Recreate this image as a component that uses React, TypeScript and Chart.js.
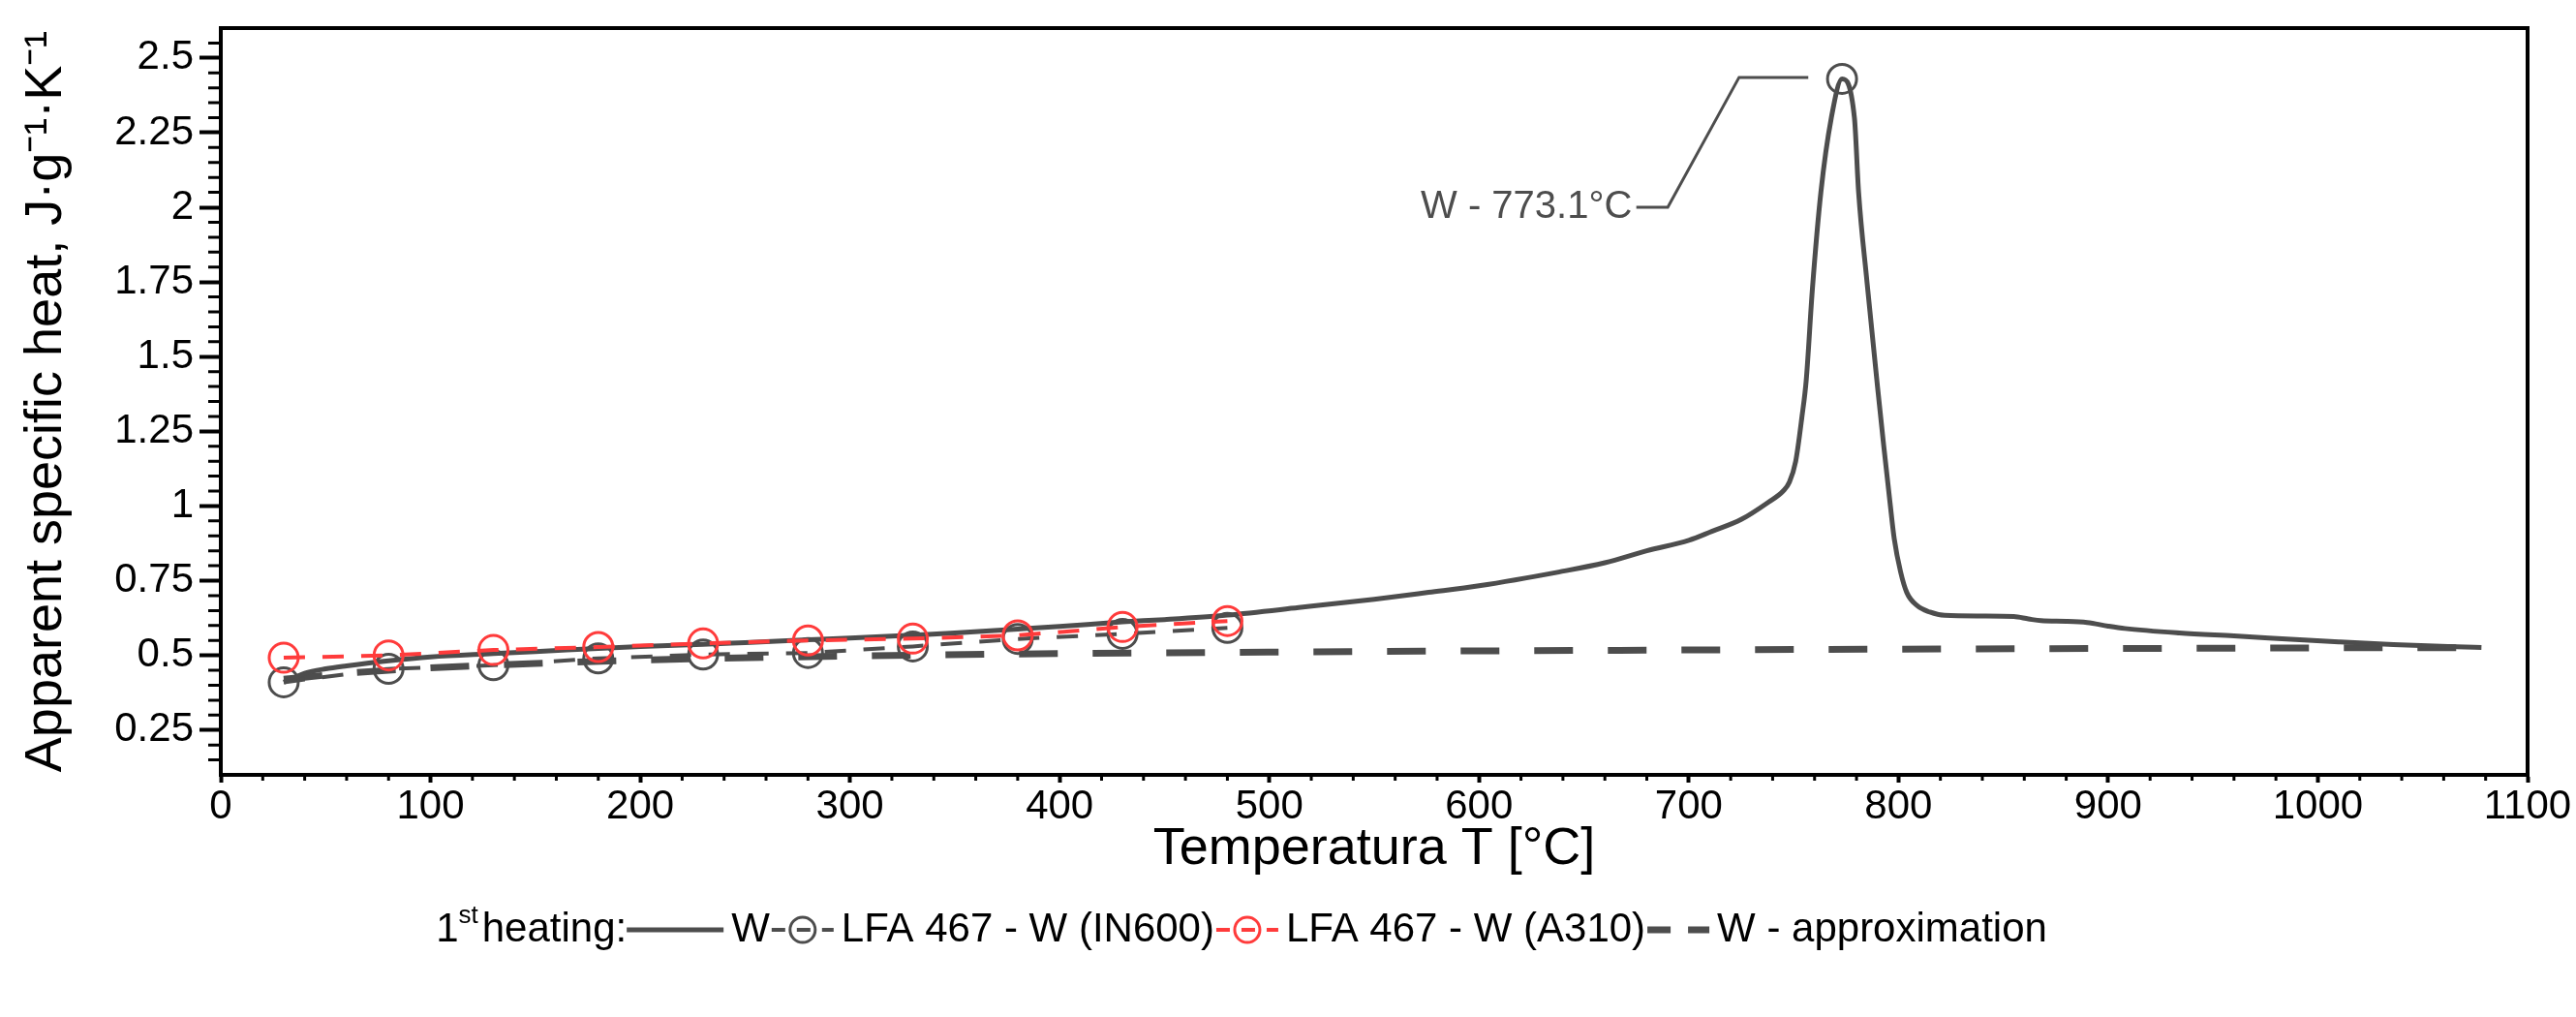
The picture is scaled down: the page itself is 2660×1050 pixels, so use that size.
import { useEffect, useRef } from 'react';
import { Chart, registerables, Plugin } from 'chart.js';

Chart.register(...registerables);

// W - 1st heating (DSC), temperature in °C, apparent cp in J/(g·K)
const wTemp = [
  30, 35, 40, 50, 60, 80, 100, 130, 150, 180, 200, 230, 250, 280, 300, 330, 350, 380, 400, 430, 450,
  480, 514, 550, 576, 600, 638, 660, 680, 700, 711, 725, 738, 745, 748, 751, 754, 756, 759, 763,
  768, 773.1, 779, 781, 785, 790, 793, 796, 798, 801, 804, 809, 815, 822, 840, 855, 862, 868, 880,
  890, 900, 908, 934, 960, 985, 1010, 1036, 1062, 1078,
];
const wCp = [
  0.41, 0.425, 0.44, 0.455, 0.465, 0.482, 0.495, 0.506, 0.513, 0.523, 0.53, 0.537, 0.543, 0.552,
  0.558, 0.568, 0.575, 0.588, 0.597, 0.612, 0.62, 0.635, 0.66, 0.688, 0.711, 0.733, 0.779, 0.81,
  0.85, 0.885, 0.915, 0.955, 1.013, 1.05, 1.08, 1.15, 1.3, 1.42, 1.73, 2.05, 2.3, 2.43, 2.3, 2.05,
  1.75, 1.4, 1.2, 1.01, 0.89, 0.78, 0.71, 0.666, 0.645, 0.634, 0.632, 0.63, 0.622, 0.616, 0.614,
  0.61, 0.598, 0.59, 0.575, 0.565, 0.555, 0.545, 0.536, 0.53, 0.526,
];

// LFA 467 points
const lfaTemp = [30, 80, 130, 180, 230, 280, 330, 380, 430, 480];
const in600Cp = [0.41, 0.455, 0.467, 0.49, 0.503, 0.508, 0.53, 0.555, 0.572, 0.592];
const a310Cp = [0.492, 0.5, 0.518, 0.528, 0.54, 0.55, 0.556, 0.567, 0.595, 0.615];

// W - approximation
const approxTemp = [30, 60, 100, 150, 200, 300, 400, 500, 600, 700, 800, 900, 1000, 1079];
const approxCp = [0.42, 0.44, 0.458, 0.473, 0.484, 0.498, 0.506, 0.511, 0.515, 0.518, 0.521, 0.523, 0.525, 0.526];

const xTicks = [0, 100, 200, 300, 400, 500, 600, 700, 800, 900, 1000, 1100];
const yTicks = [0.25, 0.5, 0.75, 1, 1.25, 1.5, 1.75, 2, 2.25, 2.5];

const peakLabel = 'W - 773.1°C';
const peakTemp = 773.1;
const peakCp = 2.43;

const FONT = "'Liberation Sans', Arial, sans-serif";
const DARK = '#4d4d4d';
const RED = '#ff3b3b';

const pts = (xs: number[], ys: number[]) => xs.map((x, i) => ({ x, y: ys[i] }));

// frame, minor ticks, peak annotation, legend
const extras: Plugin<'line'> = {
  id: 'extras',
  afterDraw(chart) {
    const { ctx, chartArea: a } = chart;
    const xs = chart.scales.x;
    const ys = chart.scales.y;
    ctx.save();

    // box around the plot
    ctx.strokeStyle = '#000';
    ctx.lineWidth = 4;
    ctx.strokeRect(a.left, a.top, a.right - a.left, a.bottom - a.top);

    // minor ticks
    ctx.lineWidth = 3;
    ctx.beginPath();
    for (let i = 3; i <= 51; i++) {
      if (i % 5 === 0) continue;
      const py = ys.getPixelForValue(i * 0.05);
      ctx.moveTo(a.left - 13, py);
      ctx.lineTo(a.left, py);
    }
    for (let i = 1; i < 55; i++) {
      if (i % 5 === 0) continue;
      const px = xs.getPixelForValue(i * 20);
      ctx.moveTo(px, a.bottom);
      ctx.lineTo(px, a.bottom + 6);
    }
    ctx.stroke();

    // peak marker and leader
    const cx = xs.getPixelForValue(peakTemp);
    const cy = ys.getPixelForValue(peakCp);
    ctx.strokeStyle = DARK;
    ctx.lineWidth = 3;
    ctx.beginPath();
    ctx.arc(cx, cy, 15, 0, Math.PI * 2);
    ctx.stroke();
    ctx.beginPath();
    ctx.moveTo(xs.getPixelForValue(675), ys.getPixelForValue(2.0));
    ctx.lineTo(xs.getPixelForValue(690), ys.getPixelForValue(2.0));
    ctx.lineTo(xs.getPixelForValue(724), ys.getPixelForValue(2.435));
    ctx.lineTo(xs.getPixelForValue(757), ys.getPixelForValue(2.435));
    ctx.stroke();
    ctx.fillStyle = DARK;
    ctx.font = `40px ${FONT}`;
    ctx.textAlign = 'right';
    ctx.textBaseline = 'middle';
    ctx.fillText(peakLabel, xs.getPixelForValue(673), ys.getPixelForValue(2.0));

    // legend, centred under the plot
    const ly = 960;
    const big = `42px ${FONT}`;
    const small = `26px ${FONT}`;
    const entries = [
      { text: 'W', color: DARK, width: 5, dash: [] as number[], marker: false, w: 100 },
      { text: 'LFA 467 - W (IN600)', color: DARK, width: 4, dash: [14, 12], marker: true, w: 64 },
      { text: 'LFA 467 - W (A310)', color: RED, width: 4, dash: [14, 12], marker: true, w: 64 },
      { text: 'W - approximation', color: DARK, width: 7, dash: [24, 18], marker: false, w: 64 },
    ];
    ctx.font = big;
    const wOne = ctx.measureText('1').width;
    const wHeat = ctx.measureText('heating:').width;
    ctx.font = small;
    const wSt = ctx.measureText('st').width + 4;
    ctx.font = big;
    let total = wOne + wSt + wHeat;
    entries.forEach((e) => {
      total += e.w + 8 + ctx.measureText(e.text).width + 2;
    });
    let lx = 1283 - total / 2;

    ctx.fillStyle = '#000';
    ctx.textAlign = 'left';
    ctx.fillText('1', lx, ly);
    lx += wOne;
    ctx.font = small;
    ctx.fillText('st', lx, ly - 14);
    lx += wSt;
    ctx.font = big;
    ctx.fillText('heating:', lx, ly);
    lx += wHeat;

    entries.forEach((e) => {
      ctx.strokeStyle = e.color;
      ctx.lineWidth = e.width;
      ctx.setLineDash(e.dash);
      ctx.beginPath();
      ctx.moveTo(lx, ly);
      ctx.lineTo(lx + e.w, ly);
      ctx.stroke();
      ctx.setLineDash([]);
      if (e.marker) {
        ctx.lineWidth = 3;
        ctx.beginPath();
        ctx.arc(lx + e.w / 2, ly, 13, 0, Math.PI * 2);
        ctx.stroke();
      }
      lx += e.w + 8;
      ctx.fillStyle = '#000';
      ctx.fillText(e.text, lx, ly);
      lx += ctx.measureText(e.text).width + 2;
    });

    ctx.restore();
  },
};

export default function App() {
  const canvasRef = useRef<HTMLCanvasElement>(null);
  const chartRef = useRef<Chart | null>(null);

  useEffect(() => {
    if (!canvasRef.current) return;
    if (chartRef.current) chartRef.current.destroy();

    Chart.defaults.font.family = FONT;
    Chart.defaults.color = '#000';

    chartRef.current = new Chart(canvasRef.current, {
      type: 'line',
      data: {
        datasets: [
          {
            label: 'LFA 467 - W (A310)',
            data: pts(lfaTemp, a310Cp),
            borderColor: RED,
            borderWidth: 4,
            borderDash: [22, 18],
            pointRadius: 15,
            pointBorderWidth: 3,
            pointBorderColor: RED,
            pointBackgroundColor: 'rgba(0,0,0,0)',
            order: 0,
          },
          {
            label: 'LFA 467 - W (IN600)',
            data: pts(lfaTemp, in600Cp),
            borderColor: DARK,
            borderWidth: 4,
            borderDash: [22, 18],
            pointRadius: 15,
            pointBorderWidth: 3,
            pointBorderColor: DARK,
            pointBackgroundColor: 'rgba(0,0,0,0)',
            order: 1,
          },
          {
            label: 'W',
            data: pts(wTemp, wCp),
            borderColor: DARK,
            borderWidth: 5,
            pointRadius: 0,
            cubicInterpolationMode: 'monotone',
            order: 2,
          },
          {
            label: 'W - approximation',
            data: pts(approxTemp, approxCp),
            borderColor: DARK,
            borderWidth: 7,
            borderDash: [40, 36],
            pointRadius: 0,
            cubicInterpolationMode: 'monotone',
            order: 3,
          },
        ],
      },
      options: {
        animation: false,
        responsive: true,
        maintainAspectRatio: false,
        layout: { padding: { left: 0, right: 50, top: 29, bottom: 140 } },
        plugins: { legend: { display: false }, tooltip: { enabled: false } },
        scales: {
          x: {
            type: 'linear',
            min: 0,
            max: 1100,
            afterBuildTicks: (s) => {
              s.ticks = xTicks.map((v) => ({ value: v }));
            },
            afterFit: (s) => {
              s.height = 110;
              s.paddingLeft = 0;
              s.paddingRight = 0;
            },
            ticks: { font: { size: 42 }, color: '#000', padding: 0, maxRotation: 0, callback: (v) => String(v) },
            grid: { drawOnChartArea: false, tickLength: 8, tickWidth: 4, tickColor: '#000' },
            border: { display: true, width: 4, color: '#000' },
            title: { display: true, text: 'Temperatura T [°C]', font: { size: 54 }, color: '#000', padding: { top: 0, bottom: 0 } },
          },
          y: {
            type: 'linear',
            min: 0.1,
            max: 2.6,
            afterBuildTicks: (s) => {
              s.ticks = yTicks.map((v) => ({ value: v }));
            },
            afterFit: (s) => {
              s.width = 228;
              s.paddingTop = 0;
              s.paddingBottom = 0;
            },
            ticks: { font: { size: 42 }, color: '#000', padding: 6, callback: (v) => String(v) },
            grid: { drawOnChartArea: false, tickLength: 22, tickWidth: 4, tickColor: '#000' },
            border: { display: true, width: 4, color: '#000' },
            title: {
              display: true,
              text: 'Apparent specific heat, J·g⁻¹·K⁻¹',
              font: { size: 54 },
              color: '#000',
              padding: { top: 16, bottom: 0 },
            },
          },
        },
      },
      plugins: [extras],
    });

    return () => {
      if (chartRef.current) {
        chartRef.current.destroy();
        chartRef.current = null;
      }
    };
  }, []);

  return (
    <div style={{ position: 'fixed', left: 0, top: 0, width: 2660, height: 1050, background: '#fff' }}>
      <canvas ref={canvasRef}></canvas>
    </div>
  );
}
